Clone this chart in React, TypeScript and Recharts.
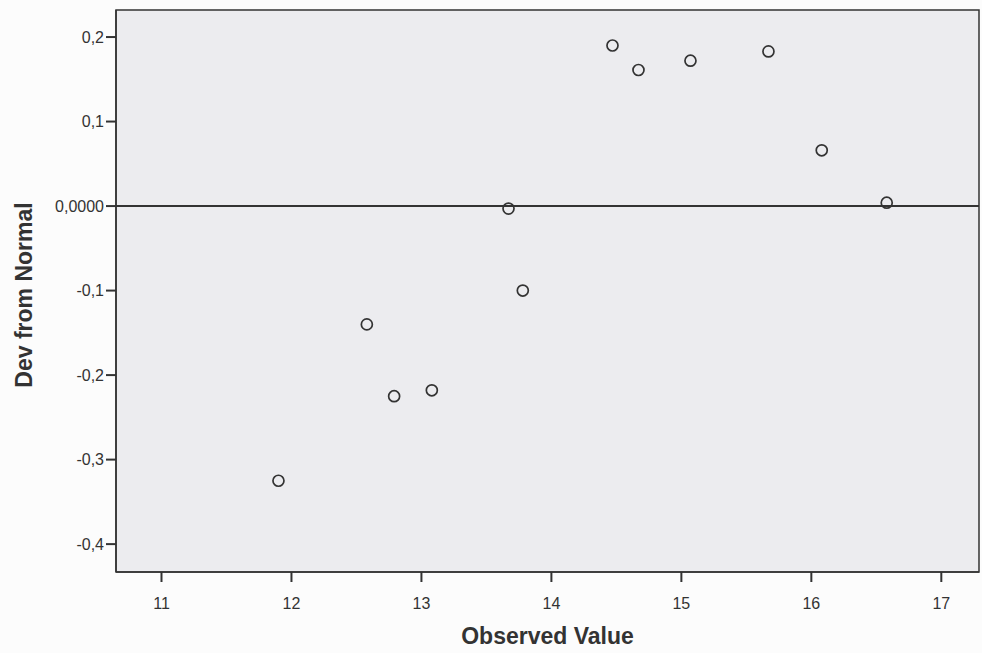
import React from 'react';
import {
  ScatterChart,
  Scatter,
  XAxis,
  YAxis,
  ReferenceLine,
  ReferenceArea,
  Label,
} from 'recharts';

const observed = [11.9, 12.58, 12.79, 13.08, 13.67, 13.78, 14.47, 14.67, 15.07, 15.67, 16.08, 16.58];
const deviation = [-0.325, -0.14, -0.225, -0.218, -0.003, -0.1, 0.19, 0.161, 0.172, 0.183, 0.066, 0.004];

const xTicks = [11, 12, 13, 14, 15, 16, 17];
const yTicks = [0.2, 0.1, 0, -0.1, -0.2, -0.3, -0.4];
const yTickLabels = ['0,2', '0,1', '0,0000', '-0,1', '-0,2', '-0,3', '-0,4'];

const xDomain = [10.65, 17.29];
const yDomain = [-0.433, 0.232];

const points = observed.map((x, i) => ({ x, y: deviation[i] }));

const FONT = '"Liberation Sans", Arial, sans-serif';
const INK = '#333';

const tickStyle = { fontSize: 16, fill: INK, fontFamily: FONT };

const Ring = ({ cx, cy }: any) => (
  <circle cx={cx} cy={cy} r={5.5} fill="none" stroke={INK} strokeWidth={1.7} />
);

const XTick = ({ x, y, payload }: any) => (
  <text x={x} y={y + 25} textAnchor="middle" {...tickStyle}>
    {payload.value}
  </text>
);

const XTitle = ({ viewBox }: any) => (
  <text
    x={viewBox.x + viewBox.width / 2}
    y={viewBox.y + 72}
    textAnchor="middle"
    fontFamily={FONT}
    fontWeight="bold"
    fontSize={23}
    fill={INK}
  >
    Observed Value
  </text>
);

const YTitle = ({ viewBox }: any) => {
  const cx = viewBox.x + 32;
  const cy = viewBox.y + viewBox.height / 2 + 4;
  return (
    <text
      x={cx}
      y={cy}
      transform={`rotate(-90 ${cx} ${cy})`}
      textAnchor="middle"
      fontFamily={FONT}
      fontWeight="bold"
      fontSize={23}
      fill={INK}
    >
      Dev from Normal
    </text>
  );
};

export default function App() {
  return (
    <div style={{ position: 'absolute', left: 0, top: 0, background: '#fcfcfc' }}>
      <ScatterChart width={982} height={653} margin={{ top: 10, right: 3, bottom: 0, left: 0 }}>
        <ReferenceArea
          x1={xDomain[0]}
          x2={xDomain[1]}
          y1={yDomain[0]}
          y2={yDomain[1]}
          fill="#ececef"
          fillOpacity={1}
          stroke={INK}
          strokeWidth={1.5}
        />
        <XAxis
          type="number"
          dataKey="x"
          domain={xDomain}
          ticks={xTicks}
          allowDataOverflow
          height={81}
          tick={<XTick />}
          tickSize={10}
          axisLine={{ stroke: INK, strokeWidth: 1.5 }}
          tickLine={{ stroke: INK, strokeWidth: 2 }}
        >
          <Label content={<XTitle />} />
        </XAxis>
        <YAxis
          type="number"
          dataKey="y"
          domain={yDomain}
          ticks={yTicks}
          allowDataOverflow
          width={116}
          tick={tickStyle}
          tickSize={10}
          tickMargin={2}
          tickFormatter={(v: number) => yTickLabels[yTicks.indexOf(v)] ?? String(v)}
          axisLine={{ stroke: INK, strokeWidth: 1.5 }}
          tickLine={{ stroke: INK, strokeWidth: 2 }}
        >
          <Label content={<YTitle />} />
        </YAxis>
        <ReferenceLine y={0} stroke={INK} strokeWidth={2} />
        <Scatter data={points} shape={<Ring />} isAnimationActive={false} />
      </ScatterChart>
    </div>
  );
}
